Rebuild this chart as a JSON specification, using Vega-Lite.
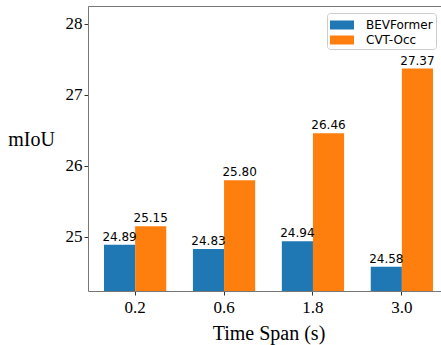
{
  "$schema": "https://vega.github.io/schema/vega-lite/v6.json",
  "width": 353,
  "height": 285,
  "autosize": {"type": "none"},
  "padding": {"left": 88, "top": 6, "right": 0, "bottom": 54},
  "config": {"view": {"stroke": null}, "font": "Liberation Serif"},
  "data": {"values": [
    {"span": "0.2", "model": "BEVFormer", "miou": 24.89},
    {"span": "0.2", "model": "CVT-Occ", "miou": 25.15},
    {"span": "0.6", "model": "BEVFormer", "miou": 24.83},
    {"span": "0.6", "model": "CVT-Occ", "miou": 25.80},
    {"span": "1.8", "model": "BEVFormer", "miou": 24.94},
    {"span": "1.8", "model": "CVT-Occ", "miou": 26.46},
    {"span": "3.0", "model": "BEVFormer", "miou": 24.58},
    {"span": "3.0", "model": "CVT-Occ", "miou": 27.37}
  ]},
  "encoding": {
    "x": {
      "field": "span", "type": "nominal", "sort": ["0.2", "0.6", "1.8", "3.0"],
      "scale": {"range": [0, 361], "paddingInner": 0.3, "paddingOuter": 0.18},
      "axis": {"labelAngle": 0, "labelFontSize": 17, "labelColor": "black", "labelPadding": 4,
               "tickSize": 4, "tickColor": "#333", "domainColor": "#777",
               "title": "Time Span (s)", "titleFontSize": 20, "titleFontWeight": "normal", "titleColor": "black", "titlePadding": 8}
    },
    "xOffset": {"field": "model", "type": "nominal", "sort": ["BEVFormer", "CVT-Occ"], "scale": {"paddingInner": 0, "paddingOuter": 0}},
    "y": {
      "field": "miou", "type": "quantitative",
      "scale": {"domain": [24.24, 28.25], "nice": false, "zero": false},
      "axis": {"values": [25, 26, 27, 28], "grid": false, "labelFontSize": 17, "labelColor": "black", "labelPadding": 2,
               "tickSize": 4, "tickColor": "#333", "domainColor": "#777",
               "title": "mIoU", "titleAngle": 0, "titleFontSize": 20, "titleFontWeight": "normal", "titleColor": "black",
               "titleX": -57, "titleY": 133, "titleAlign": "center", "titleBaseline": "middle"}
    }
  },
  "layer": [
    {
      "mark": {"type": "bar", "clip": true},
      "encoding": {
        "color": {
          "field": "model", "type": "nominal", "sort": ["BEVFormer", "CVT-Occ"],
          "scale": {"domain": ["BEVFormer", "CVT-Occ"], "range": ["#1f77b4", "#ff7f0e"]},
          "legend": {"orient": "none", "legendX": 239, "legendY": 7, "title": null,
                     "padding": 3, "fillColor": "white", "strokeColor": "#ccc", "cornerRadius": 3,
                     "labelFont": "DejaVu Sans", "labelFontSize": 12, "labelColor": "black", "labelOffset": 18,
                     "rowPadding": 0, "symbolType": "M-1,-0.5H1.667V0.5H-1Z", "symbolSize": 324,
                     "symbolStrokeWidth": 0, "symbolOpacity": 1}
        }
      }
    },
    {
      "mark": {"type": "text", "baseline": "bottom", "dy": -1, "font": "DejaVu Sans", "fontSize": 12, "color": "black"},
      "encoding": {
        "x": {"field": "span", "type": "nominal", "sort": ["0.2", "0.6", "1.8", "3.0"],
              "axis": {"orient": "top", "labels": false, "ticks": false, "title": null, "domainColor": "#777"}},
        "text": {"field": "miou", "type": "quantitative", "format": ".2f"}
      }
    }
  ],
  "resolve": {"axis": {"x": "independent"}}
}
